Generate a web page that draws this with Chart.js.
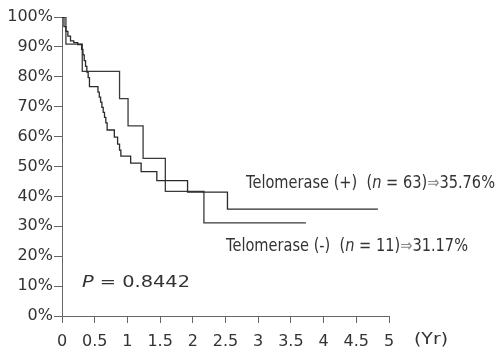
<!DOCTYPE html>
<html lang="en">
<head>
    <meta charset="UTF-8">
    <title>Telomerase survival</title>
    <script src="https://cdn.jsdelivr.net/npm/chart.js"></script>
    <style>
        html, body { margin: 0; padding: 0; background: #fff; }
        #wrap { width: 496px; height: 352px; }
    </style>
</head>
<body>
    <div id="wrap"><canvas id="kmChart"></canvas></div>

    <script>
        // Telomerase (+), n = 63
        const posYears = [0, 0.03, 0.06, 0.09, 0.13, 0.18, 0.24, 0.30, 0.32, 0.34, 0.36, 0.38, 0.40, 0.42,
                          0.55, 0.57, 0.59, 0.61, 0.63, 0.65, 0.67, 0.69, 0.80, 0.85, 0.88, 0.90,
                          1.05, 1.21, 1.45, 1.92, 2.53, 4.83];
        const posSurv  = [100, 96.8, 95.2, 93.6, 92.0, 91.4, 90.8, 89.2, 87.3, 85.4, 83.5, 81.6, 79.7, 76.7,
                          74.9, 73.2, 71.5, 69.8, 68.1, 66.4, 64.6, 62.2, 59.8, 57.5, 55.5, 53.5,
                          51.1, 48.3, 45.3, 41.4, 35.76, 35.76];

        // Telomerase (-), n = 11
        const negYears = [0, 0.06, 0.31, 0.88, 1.01, 1.24, 1.58, 2.17, 3.73];
        const negSurv  = [100, 90.9, 81.8, 72.7, 63.6, 52.7, 41.7, 31.17, 31.17];

        const xTicks = [0, 0.5, 1, 1.5, 2, 2.5, 3, 3.5, 4, 4.5, 5];
        const yTicks = [0, 10, 20, 30, 40, 50, 60, 70, 80, 90, 100];

        const labelPos = ['Telomerase (+)  (', 'n', ' = 63)', '\u21D2', '35.76%'];
        const labelNeg = ['Telomerase (-)  (', 'n', ' = 11)', '\u21D2', '31.17%'];
        const pText = ['P', ' = 0.8442'];

        const FONT = '"DejaVu Sans", Verdana, sans-serif';

        function toPoints(xs, ys) {
            return xs.map((x, i) => ({ x: x, y: ys[i] }));
        }

        // draw a row of text pieces, squeezed/stretched to a target width
        function drawFitted(ctx, parts, x, y, width, size) {
            ctx.save();
            const fonts = parts.map(p => {
                const italic = (p === 'n' || p === 'P');
                return (italic ? 'italic ' : '') + size + 'px ' + FONT;
            });
            let total = 0;
            const widths = parts.map((p, i) => {
                ctx.font = fonts[i];
                const w = ctx.measureText(p).width;
                total += w;
                return w;
            });
            const sx = width / total;
            ctx.translate(x, y);
            ctx.scale(sx, 1);
            ctx.textBaseline = 'middle';
            ctx.textAlign = 'left';
            let cx = 0;
            parts.forEach((p, i) => {
                ctx.font = fonts[i];
                ctx.fillStyle = p === '\u21D2' ? '#888' : '#333';
                ctx.fillText(p, cx, 0);
                cx += widths[i];
            });
            ctx.restore();
        }

        const textPlugin = {
            id: 'kmText',
            afterDraw(chart) {
                const ctx = chart.ctx;
                drawFitted(ctx, labelPos, 246, 184, 249, 17);
                drawFitted(ctx, labelNeg, 226, 247, 242, 17);
                drawFitted(ctx, pText, 82, 283, 108, 16);
                drawFitted(ctx, ['(Yr)'], 414, 340, 34, 16);
            }
        };

        const axisColor = '#666';

        new Chart(document.getElementById('kmChart'), {
            type: 'line',
            data: {
                datasets: [
                    {
                        label: 'Telomerase (+)',
                        data: toPoints(posYears, posSurv),
                        borderColor: '#2a2a2a',
                        borderWidth: 1.3,
                        stepped: 'before',
                        pointRadius: 0,
                        fill: false
                    },
                    {
                        label: 'Telomerase (-)',
                        data: toPoints(negYears, negSurv),
                        borderColor: '#3a3a3a',
                        borderWidth: 1.3,
                        stepped: 'before',
                        pointRadius: 0,
                        fill: false
                    }
                ]
            },
            options: {
                responsive: true,
                maintainAspectRatio: false,
                animation: false,
                layout: { padding: { top: 17, right: 107, left: 0, bottom: 0 } },
                plugins: {
                    legend: { display: false },
                    tooltip: { enabled: false }
                },
                scales: {
                    x: {
                        type: 'linear',
                        min: 0,
                        max: 5,
                        afterBuildTicks: s => { s.ticks = xTicks.map(v => ({ value: v })); },
                        afterFit: s => { s.height = 36; },
                        border: { color: axisColor, width: 1 },
                        grid: { drawOnChartArea: false, drawTicks: true, tickLength: 7, color: axisColor },
                        ticks: {
                            color: '#333',
                            padding: 9,
                            maxRotation: 0,
                            font: { family: FONT, size: 16 },
                            callback: v => String(v)
                        }
                    },
                    y: {
                        min: 0,
                        max: 100,
                        afterBuildTicks: s => { s.ticks = yTicks.map(v => ({ value: v })); },
                        afterFit: s => { s.width = 62; },
                        border: { color: axisColor, width: 1 },
                        grid: { drawOnChartArea: false, drawTicks: true, tickLength: 8, color: axisColor },
                        ticks: {
                            color: '#333',
                            padding: 1,
                            font: { family: FONT, size: 16 },
                            callback: v => v + '%'
                        }
                    }
                }
            },
            plugins: [textPlugin]
        });
    </script>
</body>
</html>
